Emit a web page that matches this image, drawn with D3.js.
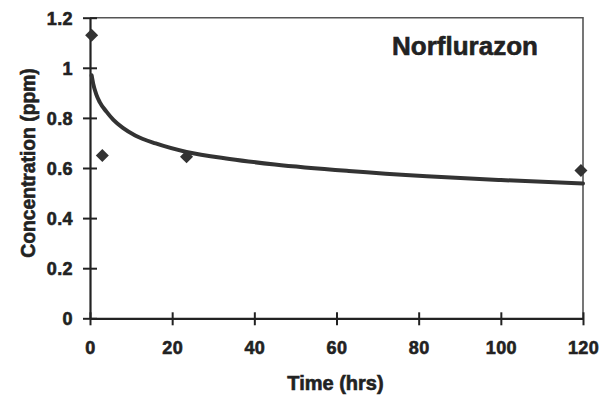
<!DOCTYPE html>
<html>
<head>
<meta charset="utf-8">
<script src="https://cdn.jsdelivr.net/npm/d3@7"></script>
<style>
  html, body { margin: 0; padding: 0; background: #fff; }
  svg { display: block; }
  text { font-family: "Liberation Sans", Arial, sans-serif; font-weight: bold; fill: #222; stroke: #222; stroke-width: 0.6px; }
</style>
</head>
<body>
<script>
// Measured concentrations (ppm) at sampling times (hrs)
const sampleTimes = [0.4, 3, 23.5, 119.5];
const sampleConc = [1.13, 0.65, 0.645, 0.59];

// Fitted decline curve, sampled along time (hrs)
const fitTimes = [0.4, 0.8, 1.5, 2.4, 4, 5.7, 8, 11, 16, 23.5, 34, 45, 63, 82, 100, 120];
const fitConc = [0.97, 0.935, 0.895, 0.862, 0.825, 0.792, 0.76, 0.73, 0.698, 0.664, 0.636, 0.614, 0.588, 0.567, 0.552, 0.538];

const xTicks = [0, 20, 40, 60, 80, 100, 120];
const yTicks = [0, 0.2, 0.4, 0.6, 0.8, 1, 1.2];
const yTickLabels = ["0", "0.2", "0.4", "0.6", "0.8", "1", "1.2"];

const chartTitle = "Norflurazon";
const xTitle = "Time (hrs)";
const yTitle = "Concentration (ppm)";

const W = 608, H = 401;
const plot = { left: 90, right: 583, top: 17.7, bottom: 318.3 };

const svg = d3.select("body").append("svg").attr("width", W).attr("height", H);

const x = d3.scaleLinear().domain([0, 120]).range([plot.left, plot.right]);
const y = d3.scaleLinear().domain([0, 1.2]).range([plot.bottom, plot.top]);

// Frame: top and right edges
svg.append("path")
  .attr("d", `M${plot.left},${plot.top}H${plot.right}V${plot.bottom}`)
  .attr("fill", "none").attr("stroke", "#555").attr("stroke-width", 1.6);

// Axes with ticks crossing the axis line
const xAxis = svg.append("g").attr("transform", `translate(0,${plot.bottom})`)
  .call(d3.axisBottom(x).tickValues(xTicks).tickSize(0).tickPadding(0).tickFormat(d3.format("d")));
const yAxis = svg.append("g").attr("transform", `translate(${plot.left},0)`)
  .call(d3.axisLeft(y).tickValues(yTicks).tickSize(0).tickFormat((d, i) => yTickLabels[i]));

[xAxis, yAxis].forEach(g => {
  g.select(".domain").attr("stroke", "#222").attr("stroke-width", 2.2);
  g.selectAll("text")
    .attr("fill", "#222").attr("stroke", "#222").attr("stroke-width", 0.6)
    .style("font-size", "18px").style("letter-spacing", "0.4px")
    .style("font-family", "Liberation Sans, Arial, sans-serif").style("font-weight", "bold");
});

xAxis.selectAll(".tick line").attr("y1", -6).attr("y2", 7).attr("stroke", "#222").attr("stroke-width", 2);
xAxis.selectAll(".tick text").attr("y", 36).attr("dy", 0);
yAxis.selectAll(".tick line").attr("x1", -7).attr("x2", 7).attr("stroke", "#222").attr("stroke-width", 2);
yAxis.selectAll(".tick text").attr("x", -17).attr("dy", "0.36em");

// Fitted curve
const line = d3.line().x((d, i) => x(fitTimes[i])).y(d => y(d)).curve(d3.curveMonotoneX);
svg.append("path").datum(fitConc)
  .attr("d", line)
  .attr("fill", "none").attr("stroke", "#333").attr("stroke-width", 4)
  .attr("stroke-linecap", "round").attr("stroke-linejoin", "round");

// Sample points as diamonds
const diamond = d3.symbol().type(d3.symbolSquare).size(85)();
svg.append("g").selectAll("path").data(sampleConc).join("path")
  .attr("d", diamond)
  .attr("transform", (d, i) => `translate(${x(sampleTimes[i])},${y(d)}) rotate(45)`)
  .attr("fill", "#333");

// Titles
svg.append("text").attr("x", 465).attr("y", 55).attr("text-anchor", "middle")
  .style("font-size", "26px").text(chartTitle);
svg.append("text").attr("x", (plot.left + plot.right) / 2 - 1).attr("y", 390).attr("text-anchor", "middle")
  .style("font-size", "20px").text(xTitle);
svg.append("text").attr("transform", `translate(35,163) rotate(-90)`).attr("text-anchor", "middle")
  .style("font-size", "19.3px").text(yTitle);
</script>
</body>
</html>
